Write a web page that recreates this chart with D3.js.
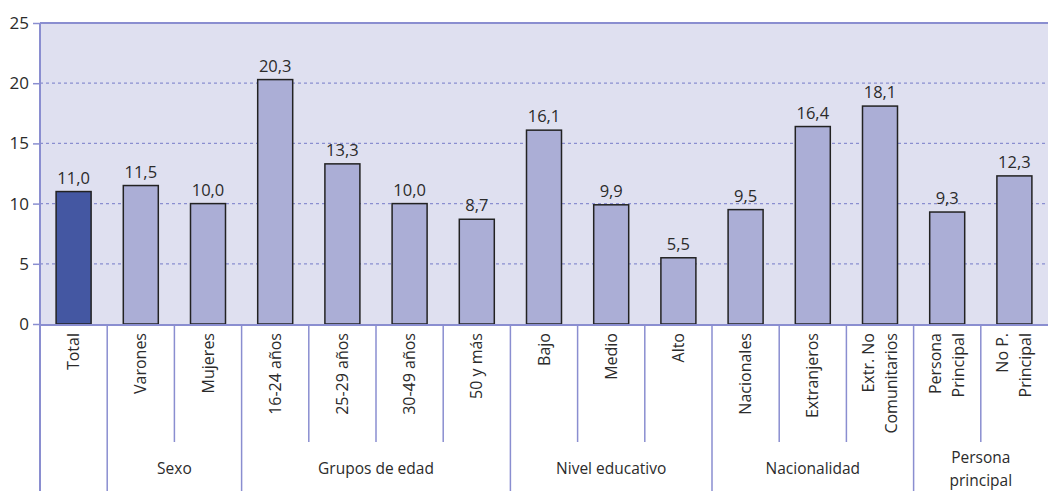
<!DOCTYPE html>
<html><head><meta charset="utf-8">
<script src="https://cdn.jsdelivr.net/npm/d3@7"></script>
<style>body{margin:0;background:#fff}svg{display:block}text{font-family:"Open Sans",sans-serif;fill:#2b2b2b}</style>
</head><body><svg id="c" width="1048" height="491"></svg>
<script>
const categories = ["Total","Varones","Mujeres","16-24 años","25-29 años","30-49 años","50 y más","Bajo","Medio","Alto","Nacionales","Extranjeros","Extr. No|Comunitarios","Persona|Principal","No P.|Principal"];
const values = [11.0,11.5,10.0,20.3,13.3,10.0,8.7,16.1,9.9,5.5,9.5,16.4,18.1,9.3,12.3];
const groupNames = ["","Sexo","Grupos de edad","Nivel educativo","Nacionalidad","Persona|principal"];
const groupSizes = [1,2,4,3,3,2];
const yTicks = [0,5,10,15,20,25];

const svg = d3.select("#c");
const L=40, R=1048, T=23, B=324;
const x = d3.scaleBand().domain(categories).range([L,R]).paddingInner(0).paddingOuter(0);
const y = d3.scaleLinear().domain([0,25]).range([B,T]);
const bw = 35;

svg.append("rect").attr("x",L).attr("y",T).attr("width",R-L).attr("height",B-T).attr("fill","#dfe0f0");
svg.selectAll(".g").data(yTicks.filter(d=>d>0&&d<25)).join("line")
  .attr("x1",L).attr("x2",R).attr("y1",d=>y(d)).attr("y2",d=>y(d))
  .attr("stroke","#8a8ed0").attr("stroke-width",1.2).attr("stroke-dasharray","3,3");
svg.append("line").attr("x1",L).attr("x2",R).attr("y1",y(25)).attr("y2",y(25)).attr("stroke","#8a8ed0").attr("stroke-width",2);

svg.selectAll(".bar").data(values).join("rect")
  .attr("x",(d,i)=>x(categories[i])+x.bandwidth()/2-bw/2)
  .attr("y",d=>y(d)).attr("width",bw).attr("height",d=>y(0)-y(d))
  .attr("fill",(d,i)=>i===0?"#4457a2":"#abaed6").attr("stroke","#222").attr("stroke-width",1.5);
svg.selectAll(".vl").data(values).join("text")
  .attr("x",(d,i)=>x(categories[i])+x.bandwidth()/2).attr("y",d=>y(d)-8)
  .attr("text-anchor","middle").attr("font-size",16.5).text(d=>d.toFixed(1).replace(".",","));

const ya = svg.append("g").attr("transform",`translate(${L},0)`).call(d3.axisLeft(y).tickValues(yTicks).tickSize(7).tickPadding(4));
ya.select(".domain").remove();
ya.selectAll(".tick line").attr("stroke","#8a8ed0").attr("stroke-width",1.5);
ya.selectAll(".tick text").attr("font-size",17).attr("font-family","Open Sans").attr("fill","#2b2b2b");

svg.append("line").attr("x1",L).attr("x2",R).attr("y1",B+1).attr("y2",B+1).attr("stroke","#8a8ed0").attr("stroke-width",2);
svg.append("line").attr("x1",L).attr("x2",L).attr("y1",T).attr("y2",491).attr("stroke","#8a8ed0").attr("stroke-width",2);

const groupEnds = new Set(); let acc=0; groupSizes.forEach(s=>{acc+=s; groupEnds.add(acc);});
for(let i=1;i<categories.length;i++){
  const xx = x(categories[i]);
  svg.append("line").attr("x1",xx).attr("x2",xx).attr("y1",B+1).attr("y2",groupEnds.has(i)?491:442)
    .attr("stroke","#8a8ed0").attr("stroke-width",1.5);
}
categories.forEach((c,i)=>{
  const lines=c.split("|"); const cx=x(c)+x.bandwidth()/2;
  const t=svg.append("text").attr("transform",`translate(${cx},333) rotate(-90)`).attr("text-anchor","end").attr("font-size",16);
  lines.forEach((ln,j)=>{
    t.append("tspan").attr("x",0).attr("y",(j-(lines.length-1)/2)*23+5.5).text(ln);
  });
});
acc=0;
groupSizes.forEach((s,gi)=>{
  const x0=x(categories[acc]), x1=x(categories[acc+s-1])+x.bandwidth(); acc+=s;
  const lines=groupNames[gi].split("|"); if(!groupNames[gi]) return;
  lines.forEach((ln,j)=>{
    svg.append("text").attr("x",(x0+x1)/2).attr("y",474+(j-(lines.length-1)/2)*23)
      .attr("text-anchor","middle").attr("font-size",15.5).text(ln);
  });
});
</script></body></html>
